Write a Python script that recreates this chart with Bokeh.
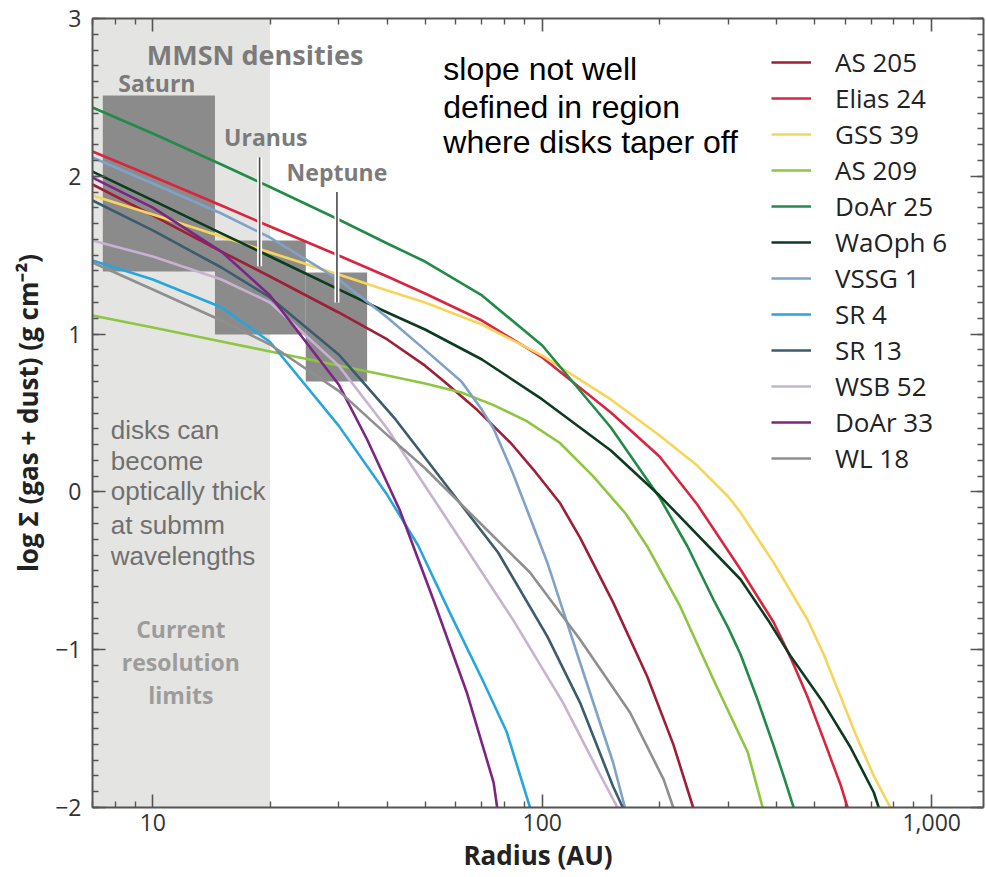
from bokeh.plotting import figure
from bokeh.models import (Legend, LegendItem, Label, FixedTicker, LogAxis, LinearAxis,
                          NumeralTickFormatter, Range1d)
from bokeh.embed import file_html
from bokeh.resources import INLINE

# ---------------- data ----------------
# radius in AU, log surface density (g cm^-2)
AS205_R = [7, 10, 15, 20, 30, 40, 50, 56, 68, 83, 95, 111, 125, 152, 186, 217, 244]
AS205_S = [1.948, 1.752, 1.523, 1.365, 1.137, 0.966, 0.80, 0.70, 0.52, 0.31, 0.14, -0.07, -0.29, -0.70, -1.17, -1.60, -2.0]

ELIAS24_R = [7, 10, 15, 20, 30, 40, 50, 70, 100, 150, 200, 250, 323, 393, 434, 480, 528, 584, 608]
ELIAS24_S = [2.157, 1.999, 1.815, 1.682, 1.498, 1.365, 1.257, 1.086, 0.852, 0.503, 0.224, -0.08, -0.492, -0.828, -1.05, -1.30, -1.57, -1.86, -2.0]

GSS39_R = [7, 10, 15, 20, 30, 40, 50, 70, 100, 150, 200, 250, 300, 323, 393, 480, 528, 584, 646, 710, 771, 785]
GSS39_S = [1.878, 1.758, 1.619, 1.517, 1.378, 1.276, 1.200, 1.061, 0.864, 0.586, 0.357, 0.167, -0.029, -0.13, -0.45, -0.81, -1.03, -1.30, -1.57, -1.80, -1.97, -2.0]

AS209_R = [7, 10, 15, 20, 30, 40, 50, 62, 75, 91, 111, 135, 164, 186, 226, 275, 300, 337, 368]
AS209_S = [1.118, 1.042, 0.953, 0.890, 0.801, 0.738, 0.687, 0.63, 0.55, 0.45, 0.31, 0.10, -0.14, -0.346, -0.726, -1.189, -1.387, -1.65, -2.0]

DOAR25_R = [7, 10, 15, 20, 30, 40, 50, 70, 100, 150, 200, 236, 275, 300, 323, 357, 393, 417, 442]
DOAR25_S = [2.436, 2.271, 2.075, 1.932, 1.726, 1.574, 1.460, 1.245, 0.928, 0.408, -0.035, -0.346, -0.682, -0.86, -1.03, -1.316, -1.613, -1.804, -2.0]

WAOPH6_R = [7, 10, 15, 20, 30, 40, 50, 70, 100, 150, 200, 323, 379, 434, 528, 619, 710, 731]
WAOPH6_S = [2.030, 1.847, 1.638, 1.492, 1.283, 1.137, 1.029, 0.839, 0.586, 0.262, -0.023, -0.555, -0.808, -1.04, -1.34, -1.62, -1.905, -2.0]

VSSG1_R = [7, 10, 15, 20, 30, 40, 50, 62, 70, 75, 84, 103, 125, 152, 163]
VSSG1_S = [2.119, 1.954, 1.764, 1.612, 1.346, 1.105, 0.900, 0.70, 0.52, 0.40, 0.12, -0.447, -1.081, -1.715, -2.0]

SR4_R = [7, 10, 15, 20, 30, 40, 48, 58, 70.5, 81, 93]
SR4_S = [1.466, 1.346, 1.17, 0.95, 0.42, -0.02, -0.34, -0.77, -1.2, -1.52, -2.0]

SR13_R = [7, 10, 15, 20, 30, 42, 57, 77, 103, 125, 152, 161]
SR13_S = [1.847, 1.657, 1.422, 1.232, 0.871, 0.459, 0.034, -0.384, -0.916, -1.335, -1.867, -2.0]

WSB52_R = [7, 10, 15, 20, 30, 40, 57, 84, 113, 138.5, 156]
WSB52_S = [1.593, 1.492, 1.346, 1.200, 0.80, 0.40, -0.175, -0.808, -1.335, -1.759, -2.0]

DOAR33_R = [7, 10, 15, 20, 30, 35.5, 43, 52.5, 64, 75, 76.6]
DOAR33_S = [1.992, 1.802, 1.523, 1.245, 0.681, 0.332, -0.112, -0.682, -1.271, -1.842, -2.0]

WL18_R = [7, 10, 15, 20, 30, 40, 50, 69, 93, 125, 168, 205, 217]
WL18_S = [1.454, 1.283, 1.086, 0.934, 0.64, 0.36, 0.15, -0.194, -0.511, -0.935, -1.398, -1.823, -2.0]

DISK_NAMES = ["AS 205", "Elias 24", "GSS 39", "AS 209", "DoAr 25", "WaOph 6",
              "VSSG 1", "SR 4", "SR 13", "WSB 52", "DoAr 33", "WL 18"]
DISK_COLORS = ["#9e1f36", "#d9263f", "#f6d55c", "#8dc641", "#238b48", "#0d3b20",
               "#7ea2c8", "#27a6dd", "#3b5b6e", "#c7b2d2", "#7c2583", "#8f8f8f"]

# MMSN density boxes (Saturn, Uranus, Neptune)
MMSN_NAMES = ["Saturn", "Uranus", "Neptune"]
MMSN_LEFT = [7.44, 14.44, 24.7]
MMSN_RIGHT = [14.44, 24.7, 35.5]
MMSN_BOTTOM = [1.397, 0.998, 0.70]
MMSN_TOP = [2.512, 1.593, 1.39]

# planet markers (Uranus, Neptune)
PLANET_R = [18.8, 29.7]
PLANET_BOTTOM = [1.43, 1.20]
PLANET_TOP = [2.12, 1.90]

RESOLUTION_LIMIT = 20.0  # AU

Y_TICKS = [-2, -1, 0, 1, 2, 3]
X_TICKS = [10, 100, 1000]

# ---------------- figure ----------------
p = figure(width=985, height=875, x_axis_type="log",
           x_range=Range1d(7.0, 1358.0), y_range=Range1d(-2.0, 3.0),
           output_backend="svg", toolbar_location=None,
           min_border_left=92, min_border_top=18, min_border_right=2, min_border_bottom=10)
p.grid.visible = False
p.outline_line_color = None
p.background_fill_color = "white"

# resolution-limit shading
p.quad(left=[7.0], right=[RESOLUTION_LIMIT], bottom=[-2.0], top=[3.0],
       fill_color="#e4e4e2", line_color=None)
# MMSN boxes
p.quad(left=MMSN_LEFT, right=MMSN_RIGHT, bottom=MMSN_BOTTOM, top=MMSN_TOP,
       fill_color="#8b8b8b", line_color=None)

series = [
    (AS205_R, AS205_S), (ELIAS24_R, ELIAS24_S), (GSS39_R, GSS39_S), (AS209_R, AS209_S),
    (DOAR25_R, DOAR25_S), (WAOPH6_R, WAOPH6_S), (VSSG1_R, VSSG1_S), (SR4_R, SR4_S),
    (SR13_R, SR13_S), (WSB52_R, WSB52_S), (DOAR33_R, DOAR33_S), (WL18_R, WL18_S),
]
items = []
for name, color, (r, s) in zip(DISK_NAMES, DISK_COLORS, series):
    rend = p.line(r, s, line_color=color, line_width=2.6, line_join="round")
    items.append(LegendItem(label=name, renderers=[rend]))

# planet marker lines (dark with white halo)
p.segment(x0=PLANET_R, x1=PLANET_R, y0=PLANET_BOTTOM, y1=PLANET_TOP,
          line_color="white", line_width=5)
p.segment(x0=PLANET_R, x1=PLANET_R, y0=PLANET_BOTTOM, y1=PLANET_TOP,
          line_color="#4a4a4a", line_width=1.6)

# ---------------- axes ----------------
AX_COLOR = "#555555"
def style_axis(ax, labels=True):
    ax.axis_line_color = AX_COLOR
    ax.axis_line_width = 2
    ax.major_tick_line_color = AX_COLOR
    ax.minor_tick_line_color = AX_COLOR
    ax.major_tick_line_width = 1.6
    ax.minor_tick_line_width = 1.4
    ax.major_tick_in = 13
    ax.major_tick_out = 0
    ax.minor_tick_in = 6
    ax.minor_tick_out = 0
    if labels:
        ax.major_label_text_font = "Open Sans"
        ax.major_label_text_font_size = "23px"
        ax.major_label_text_color = "#333333"
        ax.axis_label_text_font = "Open Sans"
        ax.axis_label_text_font_size = "26px"
        ax.axis_label_text_font_style = "bold"
        ax.axis_label_text_color = "#222222"
    else:
        ax.major_label_text_font_size = "1px"
        ax.major_label_text_alpha = 0
        ax.major_label_standoff = 0

x_minor = [m * 10 ** e for e in (0, 1, 2, 3) for m in range(2, 10)]
y_minor = [i / 10 for i in range(-20, 31)]

xa = p.xaxis[0]
xa.ticker = FixedTicker(ticks=X_TICKS, minor_ticks=x_minor)
xa.formatter = NumeralTickFormatter(format="0,0")
xa.axis_label = "Radius (AU)"
style_axis(xa)
xa.major_label_standoff = 6
xa.axis_label_standoff = 3

ya = p.yaxis[0]
ya.ticker = FixedTicker(ticks=Y_TICKS, minor_ticks=y_minor)
ya.axis_label = "log \u03a3 (gas + dust) (g cm\u207b\u00b2)"
ya.major_label_overrides = {-2: "\u22122", -1: "\u22121"}
style_axis(ya)
ya.major_label_standoff = 11
ya.axis_label_standoff = 6

top = LogAxis(ticker=FixedTicker(ticks=X_TICKS, minor_ticks=x_minor))
style_axis(top, labels=False)
p.add_layout(top, "above")
right = LinearAxis(ticker=FixedTicker(ticks=Y_TICKS, minor_ticks=y_minor))
style_axis(right, labels=False)
p.add_layout(right, "right")

# ---------------- legend ----------------
legend = Legend(items=items, location=(679, 331), orientation="vertical",
                label_text_font="Open Sans", label_text_font_size="26px",
                label_text_color="#222222", glyph_width=40, glyph_height=36,
                label_height=36, label_standoff=24, spacing=0, padding=0, margin=0,
                border_line_color=None, background_fill_alpha=0)
p.add_layout(legend)

# ---------------- annotations ----------------
GRAY_BOLD = "#7b7b7b"
p.add_layout(Label(x=18.3, y=2.772, text="MMSN densities", text_font="Open Sans",
                   text_font_style="bold", text_font_size="27px", text_color=GRAY_BOLD,
                   text_align="center", text_baseline="middle"))
for name, lx, ly in zip(MMSN_NAMES, [10.24, 19.5, 29.7], [2.594, 2.246, 2.03]):
    p.add_layout(Label(x=lx, y=ly, text=name, text_font="Open Sans", text_font_style="bold",
                       text_font_size="23px", text_color=GRAY_BOLD,
                       text_align="center", text_baseline="middle"))

for txt, ly in zip(["slope not well", "defined in region", "where disks taper off"],
                   [2.677, 2.442, 2.22]):
    p.add_layout(Label(x=55.7, y=ly, text=txt, text_font="Liberation Sans",
                       text_font_size="32px", text_color="#000000",
                       text_align="left", text_baseline="middle"))

for txt, ly in zip(["disks can", "become", "optically thick", "at submm", "wavelengths"],
                   [0.395, 0.193, 0.003, -0.207, -0.409]):
    p.add_layout(Label(x=7.8, y=ly, text=txt, text_font="Liberation Sans",
                       text_font_size="26px", text_color="#707070",
                       text_align="left", text_baseline="middle"))

for txt, ly in zip(["Current", "resolution", "limits"], [-0.866, -1.081, -1.29]):
    p.add_layout(Label(x=11.8, y=ly, text=txt, text_font="Open Sans", text_font_style="bold",
                       text_font_size="23px", text_color="#9c9c9c",
                       text_align="center", text_baseline="middle"))

open("out.html", "w").write(file_html(p, INLINE))
